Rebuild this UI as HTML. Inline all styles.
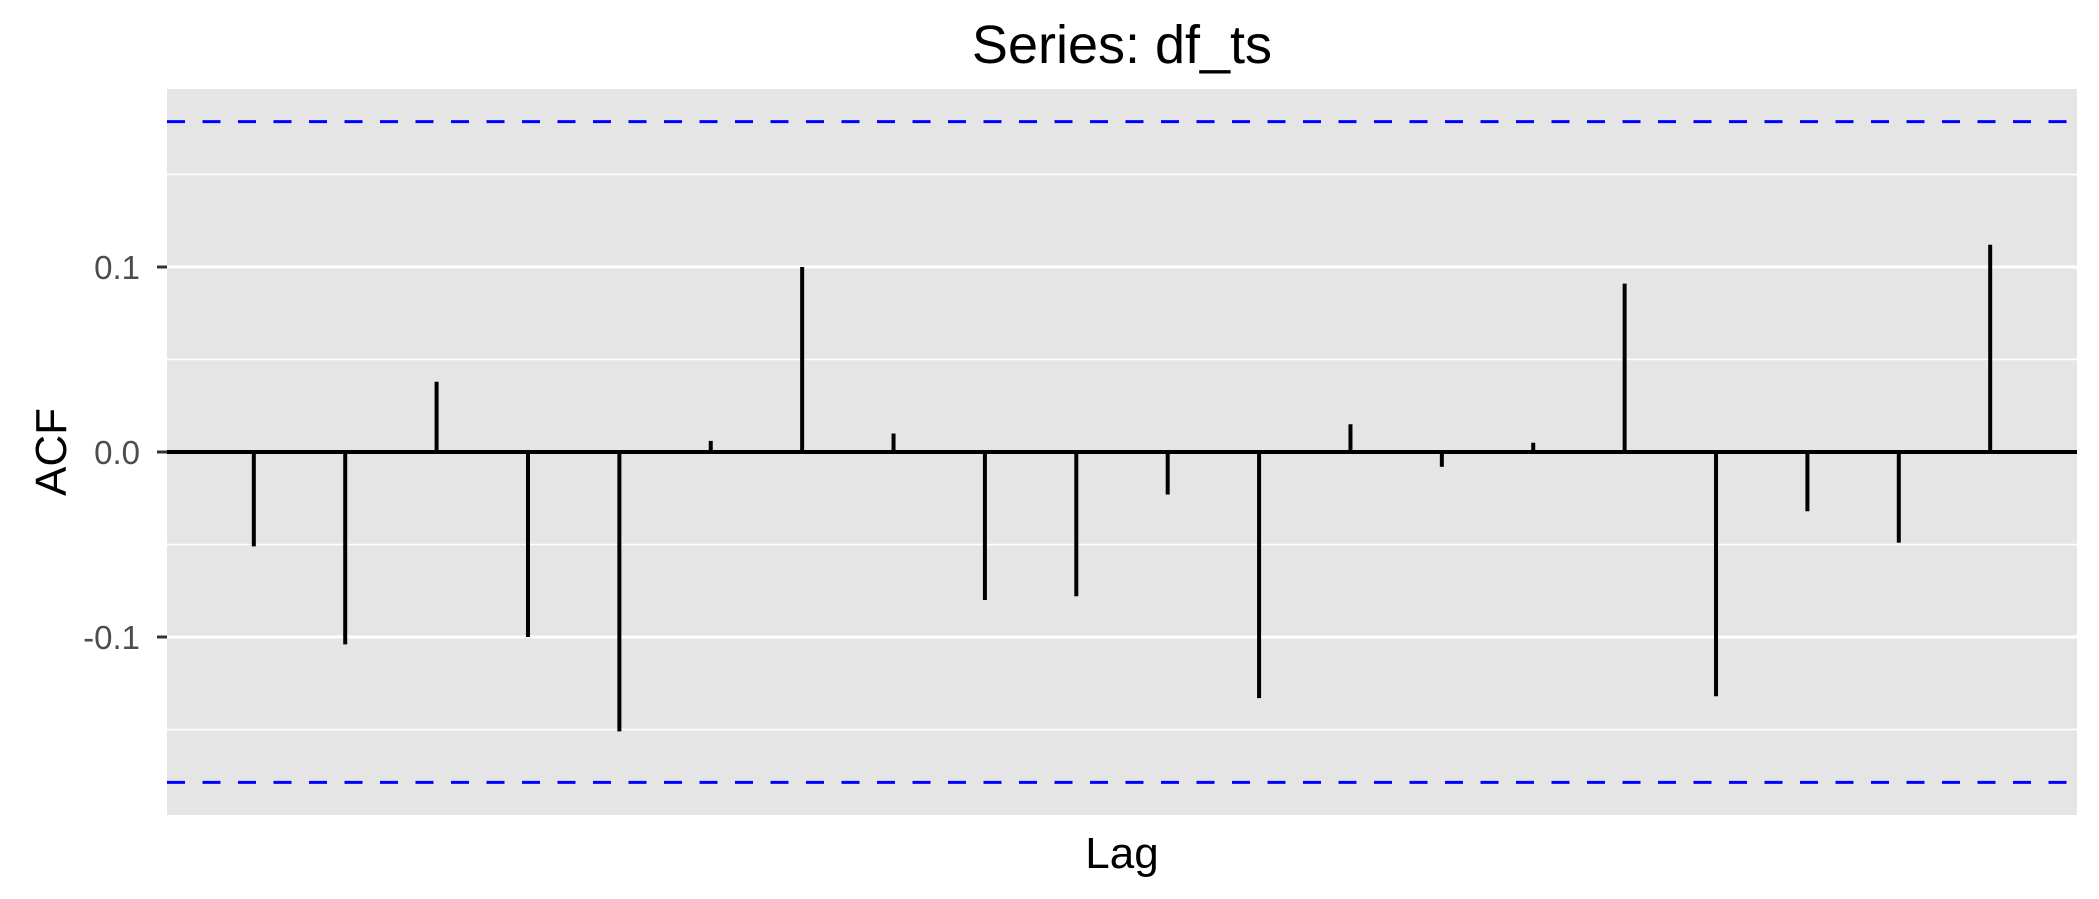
<!DOCTYPE html>
<html><head><meta charset="utf-8"><style>
html,body{margin:0;padding:0;background:#fff;}
svg{display:block;font-family:"Liberation Sans",Arial,sans-serif;}
</style></head><body>
<svg id="chart" width="2099" height="899" viewBox="0 0 2099 899" xmlns="http://www.w3.org/2000/svg">
<text x="1122" y="63" font-size="54" text-anchor="middle" fill="#000">Series: df_ts</text>
<g id="panel"></g>
<g id="yaxis"></g>
<text transform="translate(66,452) rotate(-90)" font-size="44" text-anchor="middle" fill="#000">ACF</text>
<text x="1122" y="868" font-size="44" text-anchor="middle" fill="#000">Lag</text>
</svg>
<script>
const lags = [1,2,3,4,5,6,7,8,9,10,11,12,13,14,15,16,17,18,19,20];
const acfValues = [-0.051,-0.104,0.038,-0.100,-0.151,0.006,0.100,0.010,-0.080,-0.078,-0.023,-0.133,0.015,-0.008,0.005,0.091,-0.132,-0.032,-0.049,0.112];
const ciBound = [0.1786];
const yTicks = [-0.1, 0.0, 0.1];
const yTickLabels = ["-0.1","0.0","0.1"];
const yMinorTicks = [-0.15,-0.05,0.05,0.15];

const NS = "http://www.w3.org/2000/svg";
const L = 167, R = 2077, T = 89, B = 815;
const xMin = Math.min(...lags), xMax = Math.max(...lags);
const xPad = (xMax - xMin) * 0.05;
const x = v => L + (v - (xMin - xPad)) / ((xMax - xMin) + 2 * xPad) * (R - L);
const yLim = 0.1962;
const y = v => T + (yLim - v) / (2 * yLim) * (B - T);

function mk(tag, attrs, parent) {
  const e = document.createElementNS(NS, tag);
  for (const k in attrs) e.setAttribute(k, attrs[k]);
  parent.appendChild(e);
  return e;
}
const panel = document.getElementById('panel');
const yaxis = document.getElementById('yaxis');

const bg = mk('rect', {x: L, y: T, width: R - L, height: B - T, fill: '#e5e5e5'}, panel);



yMinorTicks.forEach(v => {
  const g = mk('line', {x1: L, x2: R, y1: y(v), y2: y(v), stroke: '#fff', 'stroke-width': 1.5}, panel);
  
  
});
yTicks.forEach((v, i) => {
  const g = mk('line', {x1: L, x2: R, y1: y(v), y2: y(v), stroke: '#fff', 'stroke-width': 3}, panel);
  
  
  const t = mk('line', {x1: L - 10, x2: L, y1: y(v), y2: y(v), stroke: '#333', 'stroke-width': 3}, yaxis);
  
  
  const lb = mk('text', {x: L - 27, y: y(v) + 12, 'font-size': 33, 'text-anchor': 'end', fill: '#4d4d4d'}, yaxis);
  lb.textContent = yTickLabels[i];
  
  
});

[ciBound[0], -ciBound[0]].forEach(v => {
  const d = mk('line', {x1: L, x2: R, y1: y(v), y2: y(v), stroke: '#0000ff', 'stroke-width': 3, 'stroke-dasharray': '18 17.5'}, panel);
  
  
});

const zl = mk('line', {x1: L, x2: R, y1: y(0), y2: y(0), stroke: '#000', 'stroke-width': 4}, panel);



lags.forEach((lag, i) => {
  const s = mk('line', {x1: x(lag), x2: x(lag), y1: y(0), y2: y(acfValues[i]), stroke: '#000', 'stroke-width': 4}, panel);
  
  
});
</script>
</body></html>
